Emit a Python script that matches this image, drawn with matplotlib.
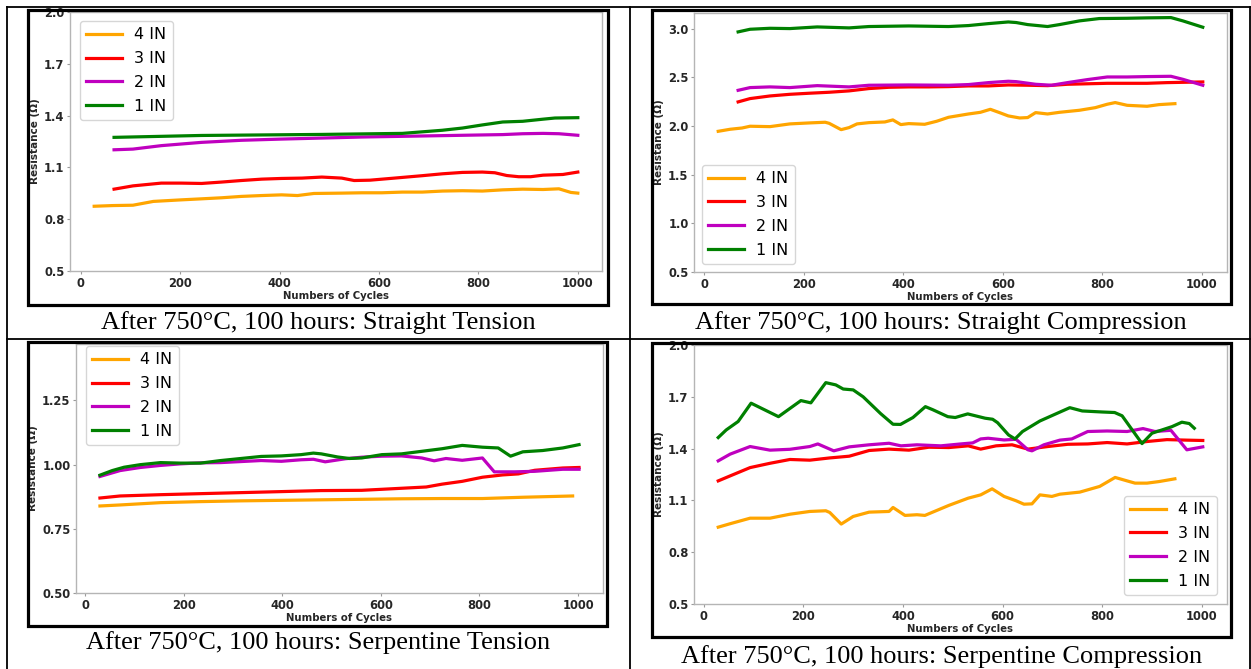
import matplotlib
matplotlib.use("Agg")
import matplotlib.pyplot as plt
from matplotlib.patches import Rectangle
from matplotlib.lines import Line2D

# ---- Straight Tension ----
st_x4 = [27, 65, 105, 146, 202, 243, 283, 323, 364, 404, 436, 469, 525, 566, 606, 647, 687, 728, 768, 808, 849, 889, 930, 962, 986, 1000]
st_y4 = [0.875, 0.879, 0.881, 0.903, 0.912, 0.918, 0.924, 0.932, 0.937, 0.941, 0.937, 0.949, 0.951, 0.953, 0.953, 0.957, 0.957, 0.963, 0.965, 0.963, 0.970, 0.974, 0.972, 0.976, 0.955, 0.951]
st_x3 = [67, 105, 162, 202, 243, 283, 323, 364, 404, 445, 485, 525, 550, 582, 631, 687, 728, 768, 808, 833, 857, 881, 905, 930, 970, 1000]
st_y3 = [0.974, 0.993, 1.009, 1.009, 1.007, 1.015, 1.024, 1.032, 1.036, 1.038, 1.044, 1.038, 1.024, 1.026, 1.038, 1.052, 1.063, 1.071, 1.073, 1.069, 1.053, 1.046, 1.046, 1.055, 1.059, 1.073]
st_x2 = [67, 105, 162, 243, 323, 404, 485, 566, 647, 728, 808, 849, 889, 930, 962, 1000]
st_y2 = [1.202, 1.206, 1.226, 1.245, 1.257, 1.264, 1.270, 1.276, 1.280, 1.284, 1.288, 1.290, 1.295, 1.297, 1.295, 1.286]
st_x1 = [67, 243, 485, 647, 727, 768, 808, 849, 889, 929, 954, 1000]
st_y1 = [1.274, 1.285, 1.291, 1.297, 1.315, 1.328, 1.346, 1.363, 1.367, 1.379, 1.386, 1.388]

# ---- Straight Compression ----
sc_x4 = [28, 52, 76, 92, 132, 172, 211, 243, 251, 275, 291, 307, 331, 363, 379, 395, 411, 443, 467, 491, 531, 555, 575, 595, 611, 634, 650, 666, 690, 714, 754, 786, 810, 826, 850, 890, 914, 946]
sc_y4 = [1.945, 1.966, 1.979, 1.997, 1.993, 2.021, 2.031, 2.038, 2.027, 1.962, 1.983, 2.021, 2.034, 2.041, 2.062, 2.014, 2.024, 2.017, 2.048, 2.089, 2.123, 2.140, 2.171, 2.134, 2.103, 2.082, 2.086, 2.137, 2.123, 2.140, 2.161, 2.188, 2.223, 2.240, 2.212, 2.202, 2.219, 2.229]
sc_x3 = [68, 92, 132, 172, 211, 251, 291, 331, 371, 411, 451, 491, 531, 571, 611, 650, 690, 730, 810, 890, 930, 1002]
sc_y3 = [2.247, 2.281, 2.308, 2.325, 2.336, 2.346, 2.360, 2.384, 2.397, 2.401, 2.401, 2.404, 2.411, 2.411, 2.421, 2.418, 2.414, 2.428, 2.438, 2.438, 2.445, 2.452]
sc_x2 = [68, 92, 132, 172, 227, 291, 331, 411, 491, 531, 571, 611, 627, 666, 698, 730, 770, 810, 850, 890, 938, 962, 1002]
sc_y2 = [2.366, 2.394, 2.401, 2.394, 2.414, 2.401, 2.418, 2.421, 2.418, 2.425, 2.445, 2.459, 2.455, 2.428, 2.418, 2.445, 2.476, 2.503, 2.503, 2.507, 2.510, 2.479, 2.418]
sc_x1 = [68, 92, 132, 172, 227, 291, 331, 411, 491, 531, 571, 611, 627, 650, 690, 714, 754, 794, 850, 890, 938, 962, 1002]
sc_y1 = [2.966, 2.993, 3.003, 3.000, 3.017, 3.007, 3.021, 3.027, 3.021, 3.031, 3.051, 3.068, 3.062, 3.041, 3.021, 3.041, 3.079, 3.103, 3.106, 3.110, 3.113, 3.079, 3.014]

# ---- Serpentine Tension ----
pt_x4 = [30, 71, 153, 234, 316, 398, 479, 561, 642, 724, 806, 888, 989]
pt_y4 = [0.839, 0.843, 0.852, 0.856, 0.859, 0.861, 0.863, 0.865, 0.867, 0.868, 0.868, 0.873, 0.878]
pt_x3 = [30, 71, 153, 234, 316, 398, 479, 561, 602, 642, 692, 724, 765, 806, 847, 879, 912, 969, 1002]
pt_y3 = [0.870, 0.878, 0.883, 0.887, 0.891, 0.895, 0.899, 0.900, 0.904, 0.908, 0.913, 0.924, 0.935, 0.951, 0.960, 0.964, 0.978, 0.987, 0.989]
pt_x2 = [30, 71, 112, 153, 193, 234, 275, 316, 357, 398, 438, 463, 487, 528, 561, 602, 642, 683, 708, 732, 765, 806, 830, 871, 912, 969, 1002]
pt_y2 = [0.954, 0.977, 0.989, 0.997, 1.003, 1.007, 1.008, 1.012, 1.016, 1.013, 1.019, 1.021, 1.011, 1.023, 1.029, 1.033, 1.034, 1.026, 1.015, 1.024, 1.017, 1.026, 0.972, 0.972, 0.974, 0.982, 0.982]
pt_x1 = [30, 55, 79, 112, 153, 193, 234, 275, 316, 357, 398, 438, 463, 479, 512, 536, 561, 602, 642, 683, 724, 765, 806, 838, 863, 888, 928, 969, 1002]
pt_y1 = [0.959, 0.977, 0.990, 1.000, 1.008, 1.006, 1.006, 1.016, 1.024, 1.032, 1.034, 1.039, 1.045, 1.042, 1.030, 1.024, 1.026, 1.039, 1.042, 1.052, 1.062, 1.075, 1.068, 1.065, 1.033, 1.050, 1.055, 1.065, 1.078]

# ---- Serpentine Compression ----
pc_x4 = [29, 53, 93, 133, 173, 213, 245, 253, 276, 300, 332, 372, 380, 404, 428, 444, 492, 531, 556, 579, 603, 627, 643, 659, 675, 699, 715, 755, 795, 826, 850, 866, 890, 914, 946]
pc_y4 = [0.945, 0.965, 0.997, 0.997, 1.020, 1.036, 1.040, 1.030, 0.963, 1.007, 1.032, 1.036, 1.059, 1.013, 1.017, 1.013, 1.071, 1.113, 1.132, 1.167, 1.123, 1.098, 1.078, 1.080, 1.132, 1.123, 1.136, 1.148, 1.181, 1.233, 1.213, 1.200, 1.200, 1.209, 1.225]
pc_x3 = [29, 53, 93, 133, 173, 213, 253, 292, 332, 372, 412, 452, 492, 531, 556, 587, 619, 651, 691, 731, 771, 810, 850, 890, 930, 970, 1002]
pc_y3 = [1.213, 1.242, 1.290, 1.315, 1.337, 1.333, 1.346, 1.356, 1.389, 1.397, 1.391, 1.408, 1.406, 1.416, 1.397, 1.416, 1.422, 1.397, 1.412, 1.425, 1.427, 1.435, 1.427, 1.441, 1.452, 1.449, 1.447]
pc_x2 = [29, 53, 93, 133, 173, 213, 229, 261, 292, 332, 372, 396, 428, 476, 516, 540, 556, 571, 603, 627, 651, 659, 683, 715, 739, 771, 810, 850, 882, 906, 938, 970, 1002]
pc_y2 = [1.329, 1.368, 1.412, 1.391, 1.396, 1.412, 1.427, 1.387, 1.410, 1.422, 1.431, 1.416, 1.422, 1.416, 1.427, 1.433, 1.456, 1.460, 1.450, 1.454, 1.393, 1.387, 1.422, 1.449, 1.456, 1.499, 1.502, 1.499, 1.516, 1.499, 1.506, 1.393, 1.410]
pc_x1 = [29, 45, 69, 95, 150, 195, 215, 245, 265, 280, 300, 320, 355, 380, 395, 420, 445, 460, 490, 505, 530, 565, 580, 590, 612, 625, 640, 675, 710, 735, 760, 800, 825, 840, 880, 900, 940, 960, 975, 985]
pc_y1 = [1.464, 1.508, 1.557, 1.663, 1.585, 1.678, 1.665, 1.782, 1.769, 1.745, 1.740, 1.700, 1.603, 1.541, 1.540, 1.580, 1.643, 1.625, 1.585, 1.580, 1.601, 1.576, 1.570, 1.550, 1.479, 1.456, 1.499, 1.560, 1.605, 1.637, 1.618, 1.612, 1.609, 1.590, 1.429, 1.489, 1.527, 1.553, 1.545, 1.518]

labels = ["4 IN", "3 IN", "2 IN", "1 IN"]
colors = ["orange", "red", "m", "g"]

captions = [
    "After 750\u00b0C, 100 hours: Straight Tension",
    "After 750\u00b0C, 100 hours: Straight Compression",
    "After 750\u00b0C, 100 hours: Serpentine Tension",
    "After 750\u00b0C, 100 hours: Serpentine Compression",
]

W, H = 1251, 669
fig = plt.figure(figsize=(W / 100, H / 100), dpi=100)


def fx(px):
    return px / W


def fy(py):
    return 1 - py / H


def add_panel(box, frame, series, ylim, yticks, yfmt, legend_loc, legend_anchor):
    left, top, right, bottom = box
    ax = fig.add_axes([fx(left), fy(bottom), (right - left) / W, (bottom - top) / H])
    for (xs, ys), lab, c in zip(series, labels, colors):
        ax.plot(xs, ys, color=c, lw=2.3, label=lab)
    ax.set_ylim(*ylim)
    ax.set_yticks(yticks)
    ax.set_yticklabels([yfmt.format(v) for v in yticks])
    ax.set_xticks([0, 200, 400, 600, 800, 1000])
    for s in ax.spines.values():
        s.set_color("#b5b5b5")
        s.set_linewidth(1.0)
    ax.tick_params(color="#9a9a9a", labelcolor="#262626", labelsize=8.3,
                   length=2.5, width=0.8, pad=1.5)
    for t in ax.get_xticklabels() + ax.get_yticklabels():
        t.set_fontweight("bold")
    ax.set_xlabel("Numbers of Cycles", fontsize=7.3, fontweight="bold", color="#262626", labelpad=1)
    ax.set_ylabel("Resistance (\u03a9)", fontsize=7.5, fontweight="bold", color="#262626", labelpad=3)
    ax.legend(loc=legend_loc, bbox_to_anchor=(fx(legend_anchor[0]), fy(legend_anchor[1])),
              bbox_transform=fig.transFigure, borderaxespad=0, fontsize=11.5,
              labelspacing=0.55, handlelength=2.2)

    fl, ft, fr, fb = frame
    fig.patches.append(Rectangle((fx(fl), fy(fb)), (fr - fl) / W, (fb - ft) / H,
                                 transform=fig.transFigure, fill=False,
                                 edgecolor="black", lw=2.3, zorder=10))
    return ax


add_panel((70, 12, 602, 271), (28, 10, 608, 305),
          [(st_x4, st_y4), (st_x3, st_y3), (st_x2, st_y2), (st_x1, st_y1)],
          (0.5, 2.0), [0.5, 0.8, 1.1, 1.4, 1.7, 2.0], "{:.1f}",
          "upper left", (80, 21))
add_panel((694, 13, 1227, 272), (652, 10, 1231, 304),
          [(sc_x4, sc_y4), (sc_x3, sc_y3), (sc_x2, sc_y2), (sc_x1, sc_y1)],
          (0.5, 3.16), [0.5, 1.0, 1.5, 2.0, 2.5, 3.0], "{:.1f}",
          "lower left", (702, 264))
add_panel((76, 344, 603, 593), (28, 342, 607, 626),
          [(pt_x4, pt_y4), (pt_x3, pt_y3), (pt_x2, pt_y2), (pt_x1, pt_y1)],
          (0.5, 1.47), [0.5, 0.75, 1.0, 1.25], "{:.2f}",
          "upper left", (86, 346))
add_panel((694, 345, 1227, 604), (652, 343, 1231, 637),
          [(pc_x4, pc_y4), (pc_x3, pc_y3), (pc_x2, pc_y2), (pc_x1, pc_y1)],
          (0.5, 2.0), [0.5, 0.8, 1.1, 1.4, 1.7, 2.0], "{:.1f}",
          "lower right", (1217, 595))

# captions under each chart
cap_pos = [(318, 323), (941, 323), (318, 643), (942, 657)]
for (cx, cy), txt in zip(cap_pos, captions):
    fig.text(fx(cx), fy(cy), txt, ha="center", va="center",
             family="Liberation Serif", fontsize=19, color="black")

# table grid lines
grid = [
    ((6.5, 6.5), (7, H)),
    ((1249.5, 1249.5), (7, H)),
    ((630, 630), (7, H)),
    ((6.5, 1249.5), (7, 7)),
    ((6.5, 1249.5), (339, 339)),
]
for xs, ys in grid:
    fig.lines.append(Line2D([fx(v) for v in xs], [fy(v) for v in ys],
                            transform=fig.transFigure, color="black", lw=1.3))

fig.savefig("out.png", dpi=100)
